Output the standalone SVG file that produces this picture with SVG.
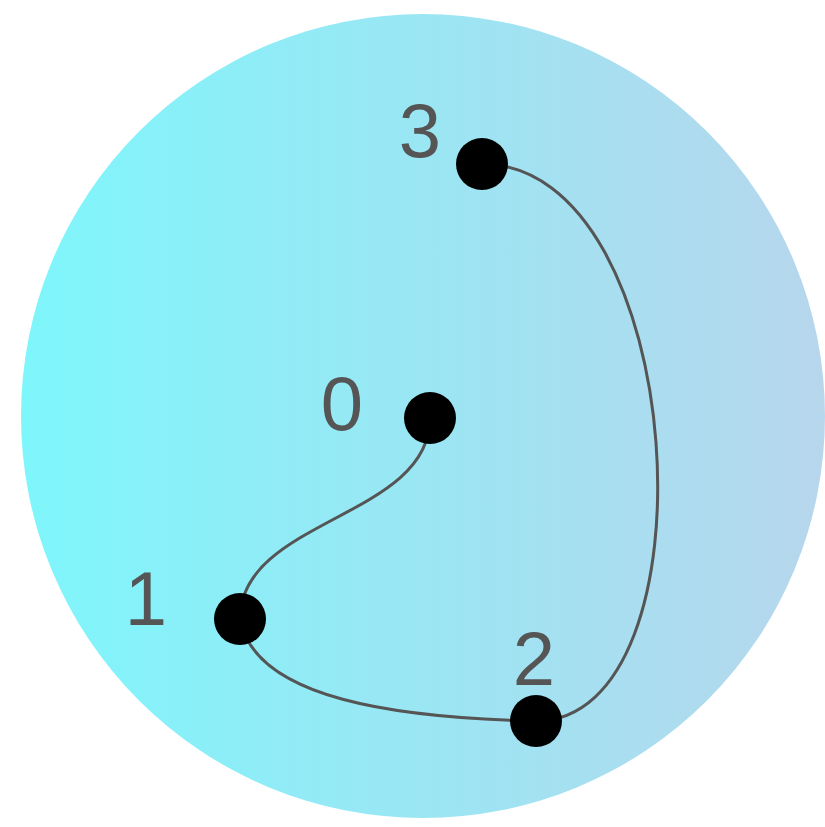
<svg xmlns="http://www.w3.org/2000/svg" width="825" height="827" viewBox="0 0 825 827">
<defs>
<linearGradient id="bg" x1="0" y1="0" x2="1" y2="0">
<stop offset="0" stop-color="#7ef6fb"/>
<stop offset="1" stop-color="#b7d6ec"/>
</linearGradient>
<style>
.node circle{fill:#000}
.node text{font-family:"Liberation Sans",Arial,sans-serif;font-size:76px;fill:#555;text-anchor:middle}
.edges path{fill:none;stroke:#555;stroke-width:3}
</style>
</defs>
<rect width="825" height="827" fill="#fff"/>
<circle cx="423" cy="416" r="402" fill="url(#bg)"/>
<g class="edges" id="connectors">
<path d="M430,418 C430,518 240,519 240,619"/>
<path d="M240,619 C255,700 400,718 536,721"/>
<path d="M536,721 C720,721 690,164 482,164"/>
</g>
<g class="node" id="node0"><circle cx="430" cy="418" r="26"/><text x="342" y="430">0</text></g>
<g class="node" id="node1"><circle cx="240" cy="619" r="26"/><text x="146" y="625">1</text></g>
<g class="node" id="node2"><circle cx="536" cy="721" r="26"/><text x="534" y="685">2</text></g>
<g class="node" id="node3"><circle cx="482" cy="164" r="26"/><text x="420" y="157">3</text></g>
</svg>
